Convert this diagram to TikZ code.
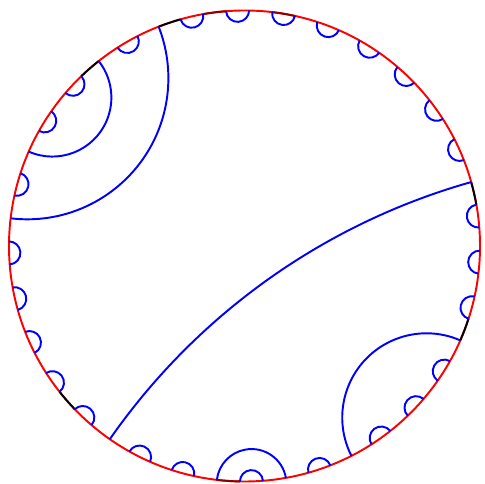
\documentclass[tikz,border=0pt]{standalone}
\begin{document}
\begin{tikzpicture}[
  geo/.style={draw=blue, line width=1.1pt},
  rim/.style={draw=red, line width=1.1pt},
  rimblack/.style={draw=black, line width=1.1pt},
  rimdark/.style={draw=red!55!black, line width=1.1pt}]
\useasboundingbox (0,0) rectangle (9.68,9.68);
\def\R{4.71}
\def\st{5.625}
\def\off{4.5}
\coordinate (O) at (4.89,4.76);
% 64 equally spaced boundary points
\foreach \k in {0,...,63} {
  \path (O) ++({\off+\k*\st}:\R) coordinate (p\k);
}
% boundary circle
\draw[rim] (O) circle[radius=\R];
\foreach \i in {1,18,22,38,59} {
  \pgfmathsetmacro\sa{\off+\i*\st}
  \pgfmathsetmacro\ea{\off+(\i+1)*\st}
  \draw[rimblack] (p\i) arc[start angle=\sa, end angle=\ea, radius=\R];
}
\foreach \i in {13,16,46} {
  \pgfmathsetmacro\sa{\off+\i*\st}
  \pgfmathsetmacro\ea{\off+(\i+1)*\st}
  \draw[rimdark] (p\i) arc[start angle=\sa, end angle=\ea, radius=\R];
}
% geodesics (Poincare disk) between paired points a -> b (b counterclockwise of a)
\foreach \a/\b in {3/4,5/6,7/8,9/10,11/12,13/14,15/16,17/18,
                   19/30,20/21,22/27,23/24,25/26,28/29,
                   31/32,33/34,35/36,37/38,39/40,
                   41/66,42/43,44/45,46/49,47/48,50/51,
                   52/59,53/54,55/56,57/58,60/61,62/63,0/1} {
  \pgfmathsetmacro\d{(\b-\a)*\st}
  \pgfmathsetmacro\r{\R*tan(\d/2)}
  \pgfmathsetmacro\sa{\off+\b*\st+90}
  \pgfmathsetmacro\ea{\off+\a*\st+270}
  \pgfmathtruncatemacro\bi{mod(\b,64)}
  \draw[geo] (p\bi) arc[start angle=\sa, end angle=\ea, radius=\r];
}
\end{tikzpicture}
\end{document}
